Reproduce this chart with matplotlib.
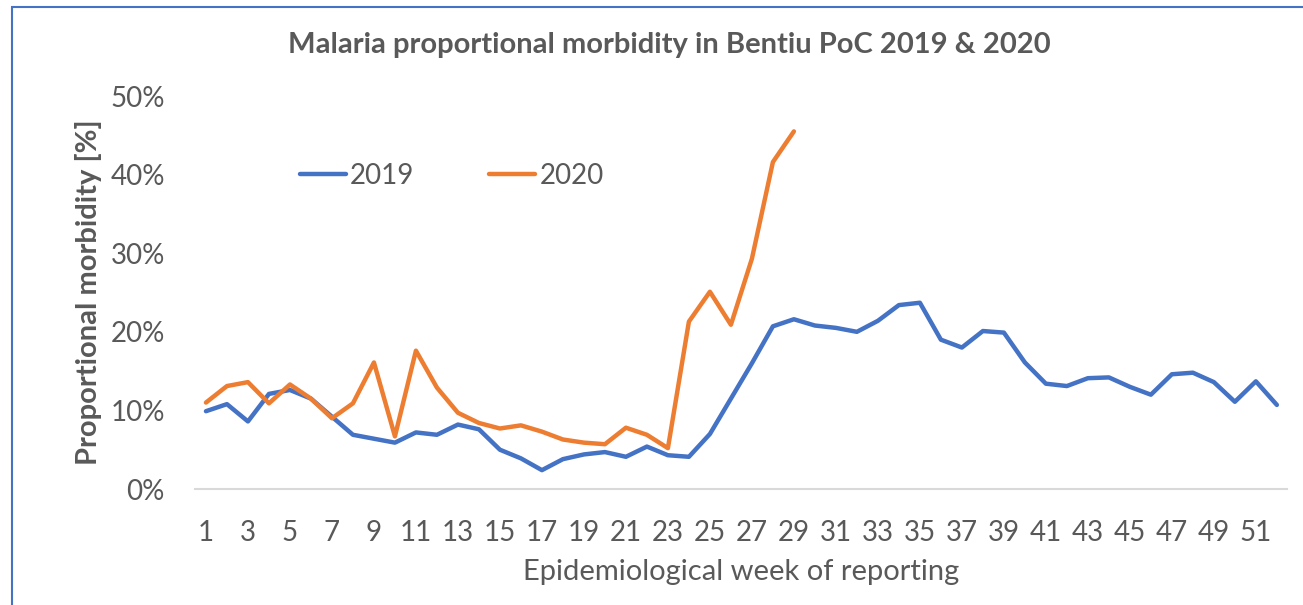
import matplotlib
matplotlib.use("Agg")
import matplotlib.pyplot as plt
from matplotlib.ticker import PercentFormatter
from matplotlib.patches import Rectangle

weeks_2019 = list(range(1, 53))
morb_2019 = [9.9, 10.8, 8.6, 12.1, 12.6, 11.5, 9.2, 6.9, 6.4, 5.9,
             7.2, 6.9, 8.2, 7.6, 5.0, 3.9, 2.4, 3.8, 4.4, 4.7,
             4.1, 5.4, 4.3, 4.1, 7.0, 11.5, 16.0, 20.7, 21.6, 20.8,
             20.5, 20.0, 21.4, 23.4, 23.7, 19.0, 18.0, 20.1, 19.9, 16.1,
             13.4, 13.1, 14.1, 14.2, 13.0, 12.0, 14.6, 14.8, 13.6, 11.1,
             13.7, 10.7]

weeks_2020 = list(range(1, 30))
morb_2020 = [11.0, 13.1, 13.6, 10.9, 13.3, 11.5, 9.0, 10.9, 16.1, 6.7,
             17.6, 12.9, 9.7, 8.4, 7.7, 8.1, 7.3, 6.3, 5.9, 5.7,
             7.8, 6.9, 5.2, 21.3, 25.1, 20.9, 29.3, 41.6, 45.5]

title = "Malaria proportional morbidity in Bentiu PoC 2019 & 2020"
xlabel = "Epidemiological week of reporting"
ylabel = "Proportional morbidity [%]"

grey = "#595959"
plt.rcParams['font.family'] = ['Lato', 'DejaVu Sans']

fig = plt.figure(figsize=(13.03, 6.05), dpi=100)
ax = fig.add_axes([0.150, 0.1917, 0.838, 0.6496])

ax.plot(weeks_2019, morb_2019, color="#4472C4", lw=3.2, label="2019", solid_capstyle="round")
ax.plot(weeks_2020, morb_2020, color="#ED7D31", lw=3.2, label="2020", solid_capstyle="round")

ax.set_xlim(0.5, 52.5)
ax.set_ylim(0, 50)
ax.set_xticks(range(1, 53, 2))
ax.set_yticks(range(0, 51, 10))
ax.yaxis.set_major_formatter(PercentFormatter(decimals=0))
ax.tick_params(length=0, labelsize=20, labelcolor=grey)
ax.tick_params(axis="y", pad=22)
ax.tick_params(axis="x", pad=22)
for s in ["top", "right", "left"]:
    ax.spines[s].set_visible(False)
ax.spines["bottom"].set_color("#D9D9D9")
ax.spines["bottom"].set_linewidth(1.5)

ax.set_xlabel(xlabel, fontsize=21, color=grey, labelpad=10)
ax.set_ylabel(ylabel, fontsize=21, color=grey, fontweight="bold", labelpad=6)
fig.text(0.514, 0.925, title, ha="center", va="center", fontsize=21, fontweight="bold", color=grey)

ax.legend(loc="center left", bbox_to_anchor=(300 / 1303, 1 - 176 / 605), bbox_transform=fig.transFigure,
          ncol=2, frameon=False, borderpad=0, borderaxespad=0,
          fontsize=20, labelcolor=grey, handlelength=1.65, handletextpad=0.15, columnspacing=2.7)

fig.patches.append(Rectangle((12 / 1303, -0.1), 1.2, 1.1 - 7 / 605, transform=fig.transFigure,
                             fill=False, edgecolor="#4472C4", lw=1.5))

fig.savefig("out.png", dpi=100)
